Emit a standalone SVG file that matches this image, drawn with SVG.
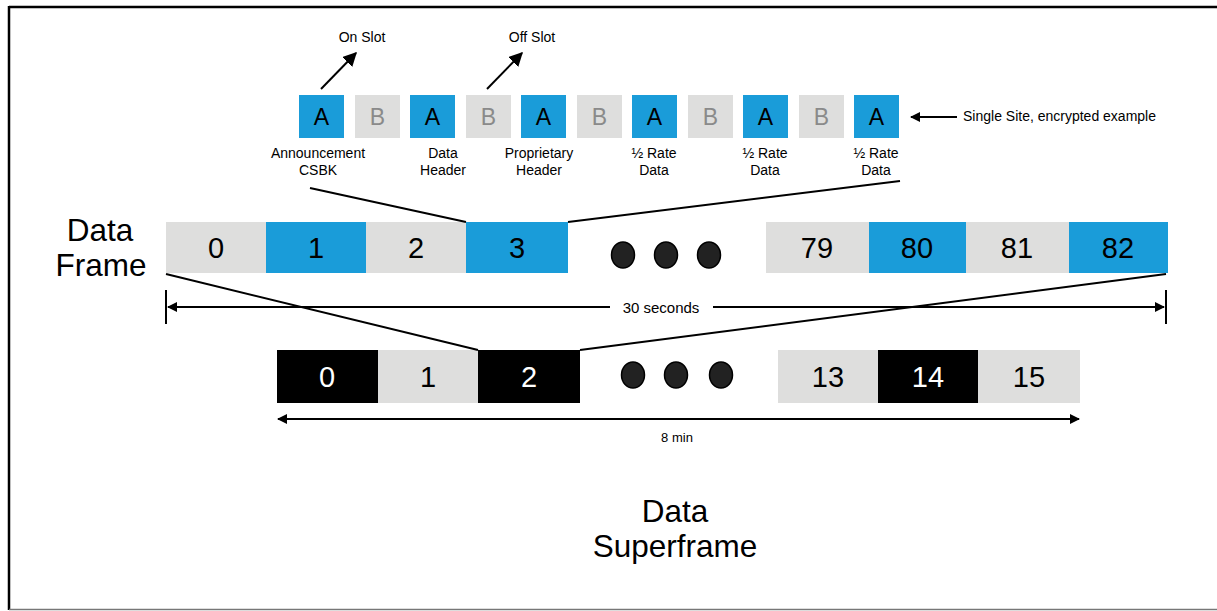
<svg xmlns="http://www.w3.org/2000/svg" width="1217" height="611" viewBox="0 0 1217 611">
<style>
text{font-family:"Liberation Sans",Arial,sans-serif;}
.blue{fill:#1a9cd9;}
.grey{fill:#dededd;}
.blk{fill:#000;}
.slotA{font-size:23px;fill:#000;text-anchor:middle;}
.slotB{font-size:23px;fill:#8a8a8a;text-anchor:middle;}
.lbl{font-size:14px;fill:#000;text-anchor:middle;}
.num{font-size:29px;fill:#000;text-anchor:middle;}
.numw{font-size:29px;fill:#fff;text-anchor:middle;}
.big{font-size:31.5px;fill:#000;text-anchor:middle;}
.ln{stroke:#000;stroke-width:2;fill:none;}
.dot{fill:#222;stroke:#000;stroke-width:1.5;}
</style>
<defs>
<marker id="ah" viewBox="0 0 10 10" refX="9" refY="5" markerWidth="10" markerHeight="10" markerUnits="userSpaceOnUse" orient="auto-start-reverse"><path d="M0,0 L10,5 L0,10 Z" fill="#000"/></marker>
<marker id="ahb" viewBox="0 0 10 10" refX="9" refY="5" markerWidth="14" markerHeight="14" markerUnits="userSpaceOnUse" orient="auto"><path d="M0,0 L10,5 L0,10 Z" fill="#000"/></marker>
</defs>
<rect width="1217" height="611" fill="#fff"/>
<g id="border">
<line x1="9" y1="7" x2="1217" y2="7" stroke="#000" stroke-width="2.5"/>
<line x1="9" y1="6" x2="9" y2="610" stroke="#000" stroke-width="2.5"/>
<line x1="9" y1="609.5" x2="1217" y2="609.5" stroke="#777" stroke-width="1.5"/>
</g>

<g id="slots">
<g id="slot-A1"><rect class="blue" x="299" y="95" width="45" height="43"/><text class="slotA" x="321.5" y="125">A</text></g>
<g id="slot-B1"><rect class="grey" x="355" y="95" width="45" height="43"/><text class="slotB" x="377.5" y="125">B</text></g>
<g id="slot-A2"><rect class="blue" x="410" y="95" width="45" height="43"/><text class="slotA" x="432.5" y="125">A</text></g>
<g id="slot-B2"><rect class="grey" x="466" y="95" width="45" height="43"/><text class="slotB" x="488.5" y="125">B</text></g>
<g id="slot-A3"><rect class="blue" x="521" y="95" width="45" height="43"/><text class="slotA" x="543.5" y="125">A</text></g>
<g id="slot-B3"><rect class="grey" x="577" y="95" width="45" height="43"/><text class="slotB" x="599.5" y="125">B</text></g>
<g id="slot-A4"><rect class="blue" x="632" y="95" width="45" height="43"/><text class="slotA" x="654.5" y="125">A</text></g>
<g id="slot-B4"><rect class="grey" x="688" y="95" width="45" height="43"/><text class="slotB" x="710.5" y="125">B</text></g>
<g id="slot-A5"><rect class="blue" x="743" y="95" width="45" height="43"/><text class="slotA" x="765.5" y="125">A</text></g>
<g id="slot-B5"><rect class="grey" x="799" y="95" width="45" height="43"/><text class="slotB" x="821.5" y="125">B</text></g>
<g id="slot-A6"><rect class="blue" x="854" y="95" width="45" height="43"/><text class="slotA" x="876.5" y="125">A</text></g>
</g>

<g id="slot-labels">
<text class="lbl" x="318" y="158">Announcement</text><text class="lbl" x="318" y="175">CSBK</text>
<text class="lbl" x="443" y="158">Data</text><text class="lbl" x="443" y="175">Header</text>
<text class="lbl" x="539" y="158">Proprietary</text><text class="lbl" x="539" y="175">Header</text>
<text class="lbl" x="654" y="158">½ Rate</text><text class="lbl" x="654" y="175">Data</text>
<text class="lbl" x="765" y="158">½ Rate</text><text class="lbl" x="765" y="175">Data</text>
<text class="lbl" x="876" y="158">½ Rate</text><text class="lbl" x="876" y="175">Data</text>
<text x="362" y="42" style="font-size:14px;text-anchor:middle">On Slot</text>
<text x="532" y="42" style="font-size:14px;text-anchor:middle">Off Slot</text>
<text x="963" y="121" style="font-size:14px">Single Site, encrypted example</text>
</g>

<g id="data-frame">
<text class="big" x="100" y="241">Data</text><text class="big" x="101" y="276">Frame</text>
<g id="df-0"><rect class="grey" x="166" y="222" width="100" height="51"/><text class="num" x="216" y="258">0</text></g>
<g id="df-1"><rect class="blue" x="266" y="222" width="100" height="51"/><text class="num" x="316" y="258">1</text></g>
<g id="df-2"><rect class="grey" x="366" y="222" width="100" height="51"/><text class="num" x="416" y="258">2</text></g>
<g id="df-3"><rect class="blue" x="466" y="222" width="102" height="51"/><text class="num" x="517" y="258">3</text></g>
<g id="df-dots"><ellipse class="dot" cx="623" cy="255" rx="11.5" ry="13"/><ellipse class="dot" cx="666" cy="255" rx="11.5" ry="13"/><ellipse class="dot" cx="709" cy="255" rx="11.5" ry="13"/></g>
<g id="df-79"><rect class="grey" x="766" y="222" width="103" height="51"/><text class="num" x="817" y="258">79</text></g>
<g id="df-80"><rect class="blue" x="869" y="222" width="97" height="51"/><text class="num" x="917" y="258">80</text></g>
<g id="df-81"><rect class="grey" x="966" y="222" width="103" height="51"/><text class="num" x="1017" y="258">81</text></g>
<g id="df-82"><rect class="blue" x="1069" y="222" width="99" height="51"/><text class="num" x="1118" y="258">82</text></g>
</g>

<g id="superframe">
<g id="sf-0"><rect class="blk" x="277" y="350" width="101" height="53"/><text class="numw" x="327" y="387">0</text></g>
<g id="sf-1"><rect class="grey" x="378" y="350" width="100" height="53"/><text class="num" x="428" y="387" fill="#222">1</text></g>
<g id="sf-2"><rect class="blk" x="478" y="350" width="102" height="53"/><text class="numw" x="529" y="387">2</text></g>
<g id="sf-dots"><ellipse class="dot" cx="633" cy="375" rx="11.5" ry="13"/><ellipse class="dot" cx="676" cy="375" rx="11.5" ry="13"/><ellipse class="dot" cx="721" cy="375" rx="11.5" ry="13"/></g>
<g id="sf-13"><rect class="grey" x="778" y="350" width="100" height="53"/><text class="num" x="828" y="387">13</text></g>
<g id="sf-14"><rect class="blk" x="878" y="350" width="100" height="53"/><text class="numw" x="928" y="387">14</text></g>
<g id="sf-15"><rect class="grey" x="978" y="350" width="102" height="53"/><text class="num" x="1029" y="387">15</text></g>
<text class="big" x="675" y="522">Data</text><text class="big" x="675" y="557">Superframe</text>
</g>

<g id="connectors">
<line class="ln" x1="321" y1="89" x2="356" y2="53" stroke-width="3" marker-end="url(#ahb)"/>
<line class="ln" x1="487" y1="89" x2="522" y2="53" stroke-width="3" marker-end="url(#ahb)"/>
<line class="ln" x1="957" y1="117" x2="911" y2="117" marker-end="url(#ah)"/>
<line class="ln" x1="310" y1="188" x2="466" y2="222"/>
<line class="ln" x1="900" y1="181" x2="568" y2="222"/>
<line class="ln" x1="166" y1="274" x2="478" y2="350"/>
<line class="ln" x1="1166" y1="274" x2="580" y2="350"/>
<line class="ln" x1="166" y1="290" x2="166" y2="324" stroke-width="2.5"/>
<line class="ln" x1="1166" y1="290" x2="1166" y2="324" stroke-width="2.5"/>
<line class="ln" x1="610" y1="307" x2="168" y2="307" marker-end="url(#ah)"/>
<line class="ln" x1="713" y1="307" x2="1164" y2="307" marker-end="url(#ah)"/>
<text x="661" y="313" style="font-size:15px;text-anchor:middle">30 seconds</text>
<line class="ln" x1="278" y1="419" x2="1079" y2="419" marker-start="url(#ah)" marker-end="url(#ah)"/>
<text x="677" y="442" style="font-size:13px;text-anchor:middle">8 min</text>
</g>
</svg>
